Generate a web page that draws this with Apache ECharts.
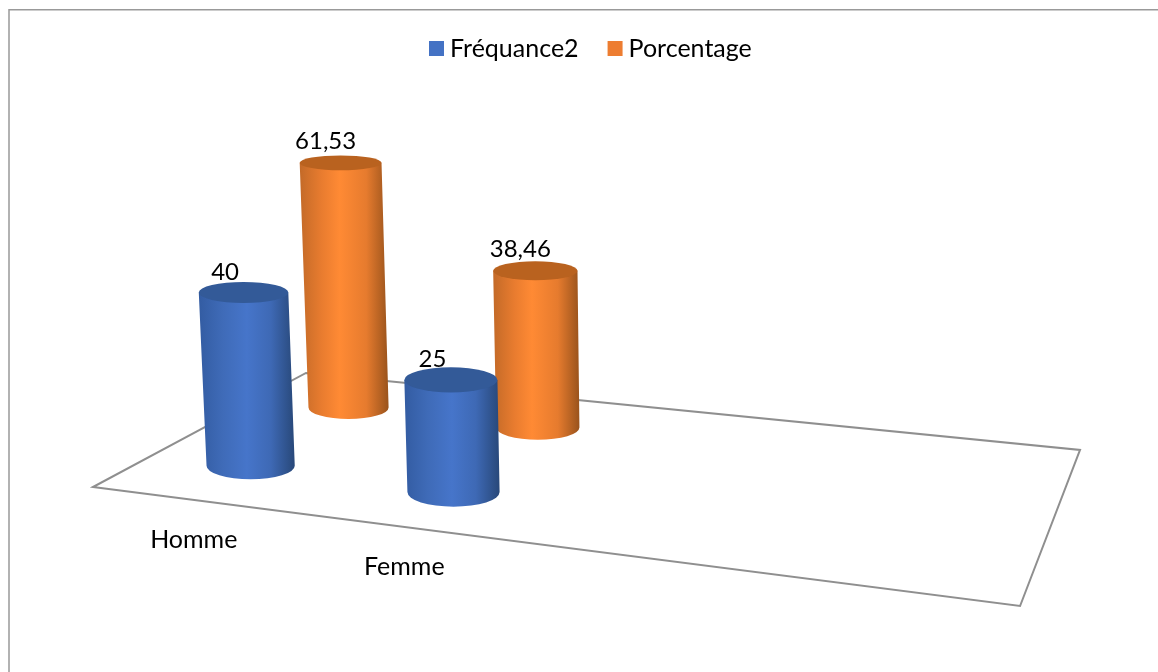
<!DOCTYPE html>
<html>
<head>
<meta charset="utf-8">
<style>html,body{margin:0;padding:0;background:#fff}#chart{width:1158px;height:672px}</style>
<script src="https://cdn.jsdelivr.net/npm/echarts@6/dist/echarts.min.js"></script>
</head>
<body>
<div id="chart"></div>
<script>
// Sex distribution, two measures per category
const categories = ['Homme', 'Femme', '', ''];
const frequence = [40, 25];
const pourcentage = [61.53, 38.46];
const seriesNames = ['Fréquance2', 'Porcentage'];

const FONT = 'Lato, "Open Sans", sans-serif';
const TEXT_SIZE = 25;
const VALUE_SIZE = 24;

// Perspective of the floor: unit square (u along categories, v in depth) to the screen.
const FLOOR = {a: 758.4, b: 277.4, c: 93, d: 18.8, e: -35.5, f: 487, g: -0.16534, h: 0.21049};
const VANISH_X = 722;      // verticals converge towards this x, far below the chart
const VANISH_DIST = 11520;
const CAMERA_RISE = 6000;  // taller columns come closer to the raised camera
const RADIUS = 45.5;       // cylinder radius at unit perspective depth
const U_STRETCH = 1.015;   // category slots sit slightly wider than the floor division
const DEPTH = [[0.25, 0.238], [0.745, 0.745]]; // depth slot per series and category
const LABEL_OFFSET = [[-18.5, -20.5], [-15, -22]]; // value label offset per series

function depthW(u, v) { return FLOOR.g * u + FLOOR.h * v + 1; }
function floorPoint(u, v) {
  const w = depthW(u, v);
  return [(FLOOR.a * u + FLOOR.b * v + FLOOR.c) / w, (FLOOR.d * u + FLOOR.e * v + FLOOR.f) / w];
}
// Ellipse flattening grows with the distance below the horizon
function flatten(y) { return 0.112 + 0.00042 * y; }
function normU(params, px) { return (px - params.coordSys.x) / params.coordSys.width; }

function ellipsePath(cx, cy, rx, ry) {
  return `M${cx - rx} ${cy}A${rx} ${ry} 0 1 1 ${cx + rx} ${cy}A${rx} ${ry} 0 1 1 ${cx - rx} ${cy}Z`;
}

function cylinderRenderer(seriesIndex, palette) {
  return function (params, api) {
    const cat = api.value(0);
    const value = api.value(1);
    const u = normU(params, api.coord([cat, 0])[0]) * U_STRETCH;
    const v = DEPTH[seriesIndex][cat];
    const w = depthW(u, v);
    const base = floorPoint(u, v);
    const flat = api.size([0, value])[1] / w;
    const height = flat * (1 + flat / CAMERA_RISE);
    const rb = RADIUS / w;
    const grow = 1 + height / VANISH_DIST;
    const topX = base[0] + (base[0] - VANISH_X) * height / VANISH_DIST;
    const topY = base[1] - height;
    const rt = rb * grow;
    const ryB = rb * flatten(base[1]);
    const ryT = rt * flatten(topY);
    const l = base[0] - rb, r = base[0] + rb;
    const body = `M${l} ${base[1]}A${rb} ${ryB} 0 0 0 ${r} ${base[1]}L${topX + rt} ${topY}L${topX - rt} ${topY}Z`;
    return {
      type: 'group',
      children: [
        {
          type: 'text',
          style: {
            text: String(value).replace('.', ','),
            x: topX + LABEL_OFFSET[seriesIndex][0], y: topY + LABEL_OFFSET[seriesIndex][1],
            align: 'center', verticalAlign: 'middle',
            font: `${VALUE_SIZE}px ${FONT}`, fill: '#000'
          }
        },
        {
          type: 'path',
          shape: {pathData: body},
          style: {
            fill: {
              type: 'linear', global: true,
              x: Math.min(l, topX - rt), y: 0, x2: Math.max(r, topX + rt), y2: 0,
              colorStops: palette.side
            }
          }
        },
        {
          type: 'path',
          shape: {pathData: ellipsePath(topX, topY, rt, ryT)},
          style: {fill: palette.cap}
        }
      ]
    };
  };
}

function floorRenderer() {
  const pts = [[0, 0], [1, 0], [1, 1], [0, 1]].map(p => floorPoint(p[0], p[1]));
  return {
    type: 'polygon',
    shape: {points: pts},
    style: {fill: 'none', stroke: '#8f8f8f', lineWidth: 2, lineJoin: 'miter'}
  };
}

function categoryLabelRenderer(params, api) {
  const u = normU(params, api.coord([api.value(0), 0])[0]);
  const p = floorPoint(u, 0);
  return {
    type: 'text',
    style: {
      text: categories[api.value(0)],
      x: p[0] + 2, y: p[1] + 40,
      align: 'center', verticalAlign: 'middle',
      font: `${TEXT_SIZE}px ${FONT}`, fill: '#000'
    }
  };
}

const bluePalette = {
  legend: '#4472C4',
  cap: '#335a98',
  side: [
    {offset: 0, color: '#335ca2'},
    {offset: 0.25, color: '#3f6bb8'},
    {offset: 0.5, color: '#4675ca'},
    {offset: 0.75, color: '#3e69b5'},
    {offset: 1, color: '#284879'}
  ]
};
const orangePalette = {
  legend: '#ED7D31',
  cap: '#b9621f',
  side: [
    {offset: 0, color: '#c36a28'},
    {offset: 0.25, color: '#e97c2f'},
    {offset: 0.45, color: '#ff8a34'},
    {offset: 0.75, color: '#e67b2e'},
    {offset: 1, color: '#99531c'}
  ]
};

const chart = echarts.init(document.getElementById('chart'), null, {renderer: 'canvas'});
chart.setOption({
  animation: false,
  backgroundColor: '#fff',
  legend: {
    data: seriesNames,
    top: 31, left: 424,
    icon: 'rect',
    itemWidth: 15, itemHeight: 15, itemGap: 29,
    textStyle: {fontFamily: FONT, fontSize: TEXT_SIZE, color: '#000', padding: [0, 0, 0, 1]},
    selectedMode: false
  },
  grid: {left: 93, right: 78, top: 100, height: 313},
  xAxis: {type: 'category', data: categories, show: false},
  yAxis: {type: 'value', min: 0, max: 72, show: false},
  graphic: [{
    type: 'polyline',
    silent: true,
    shape: {points: [[9, 672], [9, 9.75], [1158, 9.75]]},
    style: {fill: 'none', stroke: '#999', lineWidth: 1.5}
  }],
  series: [
    {
      type: 'custom', z: 1, silent: true,
      renderItem: floorRenderer,
      data: [[0, 0]]
    },
    {
      type: 'custom', z: 1, silent: true,
      renderItem: categoryLabelRenderer,
      data: [[0, 0], [1, 0]]
    },
    {
      name: seriesNames[1], type: 'custom', z: 3, silent: true,
      itemStyle: {color: orangePalette.legend},
      renderItem: cylinderRenderer(1, orangePalette),
      encode: {x: 0, y: 1},
      data: pourcentage.map((val, i) => [i, val])
    },
    {
      name: seriesNames[0], type: 'custom', z: 4, silent: true,
      itemStyle: {color: bluePalette.legend},
      renderItem: cylinderRenderer(0, bluePalette),
      encode: {x: 0, y: 1},
      data: frequence.map((val, i) => [i, val])
    }
  ]
});
</script>
</body>
</html>
